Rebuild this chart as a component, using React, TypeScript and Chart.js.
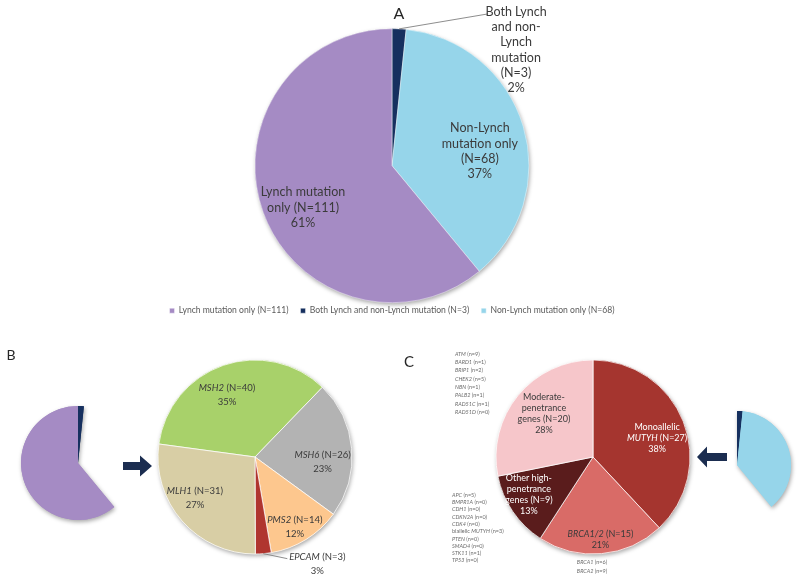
import React, { useEffect, useRef } from 'react';
import { Chart, registerables } from 'chart.js';
Chart.register(...registerables);

const FAMILY = 'Lato, Carlito, "Open Sans", sans-serif';
const TEXT = '#3b3b3b';
const NAVY = '#1b2d50';

// ---------- Panel A: overall cohort ----------
const overallCategories = ['Both Lynch and non-Lynch mutation', 'Non-Lynch mutation only', 'Lynch mutation only'];
const overallCounts = [3, 68, 111];
const overallPercents = ['2%', '37%', '61%'];
const overallColors = ['#16305f', '#96d5ea', '#a58bc4'];
const overallLegendOrder = [2, 0, 1];

// ---------- Panel B: Lynch genes ----------
const lynchGenes = ['MSH2', 'MSH6', 'PMS2', 'EPCAM', 'MLH1'];
const lynchCounts = [40, 26, 14, 3, 31];
const lynchPercents = ['35%', '23%', '12%', '3%', '27%'];
const lynchColors = ['#a8d16a', '#b3b3b3', '#fdc78e', '#b0352f', '#d8cea5'];
const lynchStart = -82.3;

// ---------- Panel C: non-Lynch groups ----------
const nonLynchCounts = [27, 15, 9, 20];
const nonLynchPercents = ['38%', '21%', '13%', '28%'];
const nonLynchColors = ['#a5352f', '#d96b67', '#5a1c1c', '#f6c6ca'];

const moderateGenes = ['ATM', 'BARD1', 'BRIP1', 'CHEK2', 'NBN', 'PALB2', 'RAD51C', 'RAD51D'];
const moderateGeneCounts = [9, 1, 2, 5, 1, 1, 1, 0];
const highGenes = ['APC', 'BMPR1A', 'CDH1', 'CDKN2A', 'CDK4', 'biallelic MUTYH', 'PTEN', 'SMAD4', 'STK11', 'TP53'];
const highGeneCounts = [5, 0, 0, 0, 0, 3, 0, 0, 1, 0];
const brcaGenes = ['BRCA1', 'BRCA2'];
const brcaGeneCounts = [6, 9];

type LabelSpec = {
  lines: string[];
  color: string;
  frac?: number;
  dx?: number;
  dy?: number;
  leader?: [number, number];
  textOffset?: [number, number];
};

function italicGene(name: string) {
  const parts = name.split(' ');
  const gene = parts.pop();
  return [...parts, `*${gene}*`].join(' ');
}

function richText(ctx: CanvasRenderingContext2D, line: string, x: number, y: number, size: number, color: string, align: 'center' | 'left') {
  const parts = line.split('*');
  const fonts = parts.map((_, k) => `${k % 2 ? 'italic ' : ''}${size}px ${FAMILY}`);
  const widths = parts.map((p, k) => { ctx.font = fonts[k]; return ctx.measureText(p).width; });
  const total = widths.reduce((a, b) => a + b, 0);
  let cx = align === 'center' ? x - total / 2 : x;
  ctx.save();
  ctx.fillStyle = color;
  ctx.textBaseline = 'middle';
  ctx.textAlign = 'left';
  parts.forEach((p, k) => { ctx.font = fonts[k]; ctx.fillText(p, cx, y); cx += widths[k]; });
  ctx.restore();
}

function drawBlock(ctx: CanvasRenderingContext2D, lines: string[], cx: number, cy: number, size: number, lh: number, color: string) {
  const y0 = cy - ((lines.length - 1) * lh) / 2;
  lines.forEach((ln, k) => richText(ctx, ln, cx, y0 + k * lh, size, color, 'center'));
}

function arcGeom(arc: any) {
  const p = arc.getProps(['x', 'y', 'startAngle', 'endAngle', 'outerRadius'], true);
  return { ...p, mid: (p.startAngle + p.endAngle) / 2 };
}

function sliceLabels(specs: LabelSpec[], size: number, lh: number) {
  return {
    id: 'sliceLabels',
    afterDatasetsDraw(chart: any) {
      const ctx = chart.ctx;
      const arcs = chart.getDatasetMeta(0).data;
      specs.forEach((s, i) => {
        const g = arcGeom(arcs[i]);
        const ux = Math.cos(g.mid), uy = Math.sin(g.mid);
        if (s.leader) {
          const ex = g.x + ux * g.outerRadius, ey = g.y + uy * g.outerRadius;
          const lx = ex + s.leader[0], ly = ey + s.leader[1];
          ctx.save();
          ctx.strokeStyle = '#808080';
          ctx.lineWidth = 0.9;
          ctx.beginPath(); ctx.moveTo(ex, ey); ctx.lineTo(lx, ly); ctx.stroke();
          ctx.restore();
          const off = s.textOffset || [0, 0];
          drawBlock(ctx, s.lines, lx + off[0], ly + off[1], size, lh, s.color);
        } else {
          const f = s.frac ?? 0.6;
          drawBlock(ctx, s.lines, g.x + ux * g.outerRadius * f + (s.dx || 0), g.y + uy * g.outerRadius * f + (s.dy || 0), size, lh, s.color);
        }
      });
    },
  };
}

function shadow(colors: string[]) {
  return {
    id: 'pieShadow',
    beforeDatasetsDraw(chart: any) {
      const ctx = chart.ctx;
      const arcs = chart.getDatasetMeta(0).data;
      ctx.save();
      ctx.shadowColor = 'rgba(0,0,0,0.35)';
      ctx.shadowBlur = 4;
      ctx.shadowOffsetX = 1;
      ctx.shadowOffsetY = 2;
      arcs.forEach((arc: any, i: number) => {
        if (colors[i] === 'transparent') return;
        const g = arcGeom(arc);
        ctx.beginPath();
        ctx.moveTo(g.x, g.y);
        ctx.arc(g.x, g.y, g.outerRadius, g.startAngle, g.endAngle);
        ctx.closePath();
        ctx.fillStyle = colors[i];
        ctx.fill();
      });
      ctx.restore();
    },
  };
}

function extras(fn: (ctx: CanvasRenderingContext2D, cx: number, cy: number, r: number) => void) {
  return {
    id: 'extras',
    afterDraw(chart: any) {
      const g = arcGeom(chart.getDatasetMeta(0).data[0]);
      fn(chart.ctx, g.x, g.y, g.outerRadius);
    },
  };
}

function arrow(ctx: CanvasRenderingContext2D, tipX: number, y: number, dir: 1 | -1, len: number, bodyH: number, headLen: number, headH: number) {
  ctx.save();
  ctx.fillStyle = NAVY;
  ctx.beginPath();
  const tail = tipX - dir * len;
  const neck = tipX - dir * headLen;
  ctx.moveTo(tail, y - bodyH / 2);
  ctx.lineTo(neck, y - bodyH / 2);
  ctx.lineTo(neck, y - headH / 2);
  ctx.lineTo(tipX, y);
  ctx.lineTo(neck, y + headH / 2);
  ctx.lineTo(neck, y + bodyH / 2);
  ctx.lineTo(tail, y + bodyH / 2);
  ctx.closePath();
  ctx.fill();
  ctx.restore();
}

function panelLetter(ctx: CanvasRenderingContext2D, t: string, x: number, y: number, size: number) {
  ctx.save();
  ctx.font = `${size}px ${FAMILY}`;
  ctx.fillStyle = '#262626';
  ctx.textAlign = 'center';
  ctx.textBaseline = 'middle';
  ctx.fillText(t, x, y);
  ctx.restore();
}

function pieConfig(o: {
  labels: string[]; data: number[]; colors: string[]; rotation: number; radius: number;
  borderWidth: number; plugins: any[]; legend?: any; padding?: any;
}): any {
  return {
    type: 'pie',
    data: {
      labels: o.labels,
      datasets: [{
        data: o.data,
        backgroundColor: o.colors,
        borderColor: o.colors.map((c) => (c === 'transparent' ? 'transparent' : 'rgba(255,255,255,0.75)')),
        borderWidth: o.borderWidth,
        hoverOffset: 0,
        rotation: o.rotation,
        radius: o.radius,
        clip: false,
      }],
    },
    options: {
      responsive: false,
      animation: false,
      events: [],
      layout: { padding: o.padding || 0 },
      plugins: {
        tooltip: { enabled: false },
        legend: o.legend || { display: false },
      },
    },
    plugins: o.plugins,
  };
}

function PieCanvas({ left, top, width, height, config }: { left: number; top: number; width: number; height: number; config: () => any }) {
  const ref = useRef<HTMLCanvasElement>(null);
  useEffect(() => {
    const chart = new Chart(ref.current as HTMLCanvasElement, config());
    return () => chart.destroy();
  }, []);
  return <canvas ref={ref} width={width} height={height} style={{ position: 'absolute', left, top, width, height }} />;
}

const specsA: LabelSpec[] = [
  { lines: ['Both Lynch', 'and non-', 'Lynch', 'mutation', `(N=${overallCounts[0]})`, overallPercents[0]], color: TEXT, leader: [89, -15], textOffset: [28, 36] },
  { lines: ['Non-Lynch', 'mutation only', `(N=${overallCounts[1]})`, overallPercents[1]], color: TEXT, frac: 0.67, dy: 12 },
  { lines: ['Lynch mutation', `only (N=${overallCounts[2]})`, overallPercents[2]], color: TEXT, frac: 0.69, dy: 10 },
];

const lynchLine = (i: number) => [`*${lynchGenes[i]}* (N=${lynchCounts[i]})`, lynchPercents[i]];
const specsB: LabelSpec[] = [
  { lines: lynchLine(0), color: TEXT, frac: 0.63, dx: -8, dy: -4 },
  { lines: lynchLine(1), color: TEXT, frac: 0.7, dy: 11 },
  { lines: lynchLine(2), color: TEXT, frac: 0.8, dx: -1, dy: 3.5 },
  { lines: lynchLine(3), color: TEXT, leader: [24, 5], textOffset: [30, 5] },
  { lines: lynchLine(4), color: TEXT, frac: 0.72, dx: -7.5, dy: -5 },
];

const specsC: LabelSpec[] = [
  { lines: ['Monoallelic', `*MUTYH* (N=${nonLynchCounts[0]})`, nonLynchPercents[0]], color: '#ffffff', frac: 0.7, dx: 1, dy: 6 },
  { lines: [`*BRCA1/2* (N=${nonLynchCounts[1]})`, nonLynchPercents[1]], color: TEXT, frac: 0.87, dy: -1.5 },
  { lines: ['Other high-', 'penetrance', `genes (N=${nonLynchCounts[2]})`, nonLynchPercents[2]], color: '#ffffff', frac: 0.75, dx: -4, dy: -3.4 },
  { lines: ['Moderate-', 'penetrance', `genes (N=${nonLynchCounts[3]})`, nonLynchPercents[3]], color: TEXT, frac: 0.7, dx: 3.5 },
];

const legendA = {
  display: true,
  position: 'bottom',
  labels: {
    boxWidth: 5,
    boxHeight: 5,
    padding: 12,
    color: '#595959',
    font: { size: 8.6, family: FAMILY },
    sort: (a: any, b: any) => overallLegendOrder.indexOf(a.index) - overallLegendOrder.indexOf(b.index),
  },
};

const smallBColors = [overallColors[0], 'transparent', overallColors[2]];
const smallCColors = [overallColors[0], overallColors[1], 'transparent'];

export default function App() {
  return (
    <div style={{ position: 'fixed', left: 0, top: 0, width: 800, height: 579, background: '#fff', overflow: 'hidden' }}>
      <PieCanvas left={0} top={0} width={786} height={325} config={() => pieConfig({
        labels: overallCategories.map((c, i) => `${c} (N=${overallCounts[i]})`),
        data: overallCounts, colors: overallColors, rotation: 0, radius: 137, borderWidth: 0.6,
        legend: legendA, padding: { top: 37, right: 2 },
        plugins: [shadow(overallColors), sliceLabels(specsA, 12.5, 15.3), extras((ctx, cx) => panelLetter(ctx, 'A', cx + 7, 14, 16))],
      })} />
      <PieCanvas left={0} top={340} width={156} height={246} config={() => pieConfig({
        labels: overallCategories, data: overallCounts, colors: smallBColors, rotation: 0, radius: 57, borderWidth: 0,
        plugins: [shadow(smallBColors), extras((ctx, cx, cy) => {
          panelLetter(ctx, 'B', cx - 67, cy - 108, 14);
          arrow(ctx, cx + 74, cy + 3, 1, 29, 8, 12, 21);
        })],
      })} />
      <PieCanvas left={140} top={340} width={230} height={234} config={() => pieConfig({
        labels: lynchGenes, data: lynchCounts, colors: lynchColors, rotation: lynchStart, radius: 97, borderWidth: 1,
        plugins: [shadow(lynchColors), sliceLabels(specsB, 9.5, 14)],
      })} />
      <PieCanvas left={400} top={340} width={386} height={234} config={() => pieConfig({
        labels: ['Monoallelic MUTYH', 'BRCA1/2', 'Other high-penetrance genes', 'Moderate-penetrance genes'],
        data: nonLynchCounts, colors: nonLynchColors, rotation: 0, radius: 97, borderWidth: 1,
        plugins: [shadow(nonLynchColors), sliceLabels(specsC, 9, 11), extras((ctx, cx, cy, r) => {
          panelLetter(ctx, 'C', cx - 184, cy - 95, 15);
          moderateGenes.forEach((g, i) => richText(ctx, `${italicGene(g)} (n=${moderateGeneCounts[i]})`, cx - r - 41, cy - r - 6 + i * 8.3, 5.5, '#6b6b6b', 'left'));
          highGenes.forEach((g, i) => richText(ctx, `${italicGene(g)} (n=${highGeneCounts[i]})`, cx - r - 44, cy + 38 + i * 7.3, 5.5, '#6b6b6b', 'left'));
          brcaGenes.forEach((g, i) => richText(ctx, `${italicGene(g)} (n=${brcaGeneCounts[i]})`, cx - 1, cy + r + 8 + i * 9, 5.5, '#6b6b6b', 'center'));
        })],
      })} />
      <PieCanvas left={677} top={395} width={120} height={140} config={() => pieConfig({
        labels: overallCategories, data: overallCounts, colors: smallCColors, rotation: 0, radius: 54, borderWidth: 0,
        plugins: [shadow(smallCColors), extras((ctx, cx, cy) => arrow(ctx, cx - 40, cy - 8, -1, 30, 8, 10, 21))],
      })} />
    </div>
  );
}
